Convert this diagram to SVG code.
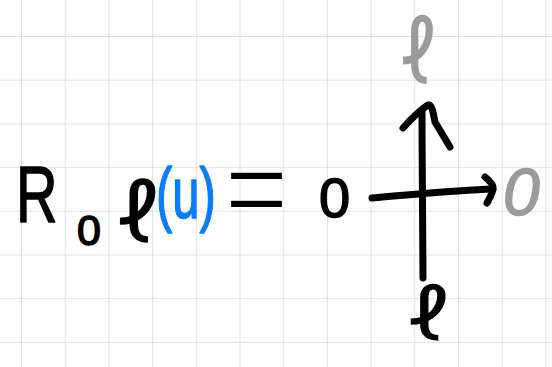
<svg xmlns="http://www.w3.org/2000/svg" width="552" height="367" viewBox="0 0 552 367">
<defs>
<pattern id="grid" x="21" y="-7.7" width="43.7" height="43.7" patternUnits="userSpaceOnUse">
<path d="M0,0 V43.7 M0,0 H43.7" fill="none" stroke="#dadada" stroke-width="1.6"/>
</pattern>
<style>
.ink{fill:none;stroke:#000;stroke-width:7;stroke-linecap:round;stroke-linejoin:round}
.t{font-family:"Liberation Sans",Arial,"DejaVu Sans",sans-serif;stroke-linejoin:round}
.r{font-family:Roboto,"DejaVu Sans",sans-serif}
.k{fill:#000;stroke:#000;stroke-width:1.5}
.kf{fill:#000}
.gf{fill:#9b9b9b}
.g{fill:#9b9b9b;stroke:#9b9b9b;stroke-width:1.5}
.b{fill:#0a7cff;stroke:#0a7cff;stroke-width:1.5}
.eq{fill:#000;stroke:#fff;stroke-width:1.4}
</style>
</defs>
<rect width="552" height="367" fill="#fff"/>
<rect width="552" height="367" fill="url(#grid)"/>
<g id="equation">
<text class="t k" transform="translate(16,222) scale(0.72,1)" font-size="80">R</text>
<text class="t k" x="77" y="245" font-size="43">0</text>
<text class="r kf" transform="translate(115,242) scale(1.12,1)" font-size="84">ℓ</text>
<text class="t b" transform="translate(156,218) scale(0.68,1)" font-size="72">(u)</text>
<text class="t eq" transform="translate(225,227) scale(1.2,1.26)" font-size="90">=</text>
<text class="t k" x="319" y="217" font-size="56">0</text>
</g>
<g id="label-up">
<text class="r gf" transform="translate(399,83) scale(0.88,1)" font-size="90">ℓ</text>
</g>
<g id="label-right">
<text class="t g" x="503" y="215" font-size="66" font-style="italic">0</text>
</g>
<g id="label-down">
<text class="r kf" transform="translate(406,340) scale(1.25,1)" font-size="74">ℓ</text>
</g>
<g id="connectors">
<path class="ink" d="M422,112 C422,170 423,230 423,278"/>
<path class="ink" d="M403,128 C412,118 420,110 428,105 C432,104 433,112 435,122 L450,147"/>
<path class="ink" d="M372,198 C420,194 460,190 493,189"/>
<path class="ink" d="M485,177 C490,181 494,185 493,189 C492,195 489,199 487,203"/>
</g>
</svg>
